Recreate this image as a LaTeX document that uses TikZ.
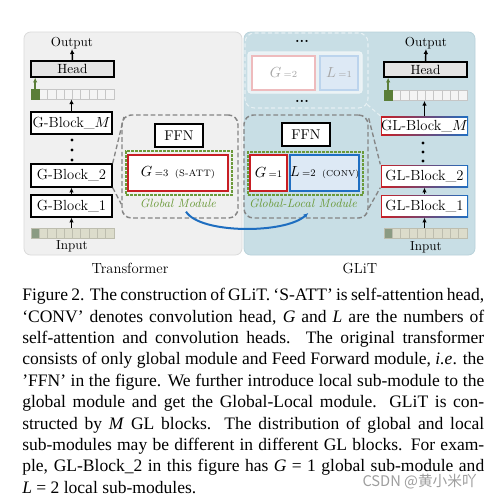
\documentclass[tikz,border=0pt]{standalone}
\usepackage{fontspec}
\usepackage{tikz}
\usetikzlibrary{arrows.meta}
\newfontfamily\capfont{Liberation Serif}
\newfontfamily\cjkfont{Noto Sans CJK SC}
\definecolor{panelgray}{HTML}{F0F0F0}
\definecolor{panelgrayline}{HTML}{DADADA}
\definecolor{panelblue}{HTML}{C8DEE5}
\definecolor{panelblueline}{HTML}{B9D2DA}
\definecolor{headfill}{HTML}{E4E4E4}
\definecolor{tokgreen}{HTML}{5A7E38}
\definecolor{tokline}{HTML}{C6C6C6}
\definecolor{tokfill}{HTML}{F4F4F4}
\definecolor{inpfirst}{HTML}{8B9B83}
\definecolor{inpfill}{HTML}{DCDCCB}
\definecolor{inpline}{HTML}{BDBDAE}
\definecolor{modred}{HTML}{C81E24}
\definecolor{modblue}{HTML}{1F6FC2}
\definecolor{modbluefill}{HTML}{DDE9F5}
\definecolor{modgreen}{HTML}{6B9A3A}
\definecolor{dashgray}{HTML}{858585}
\definecolor{arcblue}{HTML}{1E6EC0}
\def\pxu{0.75pt}
\begin{document}
\begin{tikzpicture}[x=0.75pt,y=-0.75pt,>={Latex[length=3.6pt,width=3.4pt]}]
  \tikzstyle{panel}=[rounded corners=5pt,line width=0.6pt]
  \tikzstyle{txt}=[inner sep=0pt,font=\fontsize{9.8}{11}\selectfont]
  \tikzstyle{blk}=[draw=black,line width=1pt,fill=white,inner sep=0pt,font=\fontsize{11}{13}\selectfont]
  \tikzstyle{glblk}=[blk,draw=none,left color=modred,right color=modblue,
    path picture={\fill[white] ([shift={(1.1pt,-1.1pt)}]path picture bounding box.north west)
      rectangle ([shift={(-1.1pt,1.1pt)}]path picture bounding box.south east);}]
  \tikzstyle{cell}=[draw=tokline,line width=0.5pt,fill=tokfill,minimum width=8.3*\pxu,minimum height=10*\pxu,inner sep=0pt]
  \tikzstyle{icell}=[cell,draw=inpline,fill=inpfill]
  \tikzstyle{modbox}=[draw=dashgray,line width=1.1pt,dash pattern=on 3.5pt off 2pt,rounded corners=7pt,inner sep=0pt]
  \tikzstyle{gmod}=[draw=modgreen,line width=0.8pt,dash pattern=on 2pt off 1pt,fill=none,inner sep=0pt]
  \tikzstyle{gsub}=[draw=modred,line width=1.2pt,fill=white,inner sep=0pt,font=\fontsize{11}{13}\selectfont]
  \tikzstyle{lsub}=[draw=modblue,line width=1.2pt,fill=modbluefill,inner sep=0pt,font=\fontsize{11}{13}\selectfont]
  \tikzstyle{modlabel}=[inner sep=0pt,text=modgreen,font=\fontsize{9}{10}\selectfont\itshape]
  \tikzstyle{link}=[draw=dashgray,line width=1pt,dash pattern=on 3.5pt off 2pt]
  \tikzstyle{flow}=[->,line width=1.1pt]
  \tikzstyle{gflow}=[->,line width=1.1pt,draw=tokgreen,color=tokgreen]

  \fill[white] (0,0) rectangle (493,497);
  \useasboundingbox (0,0) rectangle (493,497);

  % two panels
  \draw[panel,fill=panelgray,draw=panelgrayline] (24,32) rectangle (242,255);
  \draw[panel,fill=panelblue,draw=panelblueline] (244,32) rectangle (475,255);
  \node[txt,font=\fontsize{11}{13}\selectfont] (lab-tr) at (130,268) {Transformer};
  \node[txt,font=\fontsize{11}{13}\selectfont] (lab-gl) at (360,268) {GLiT};

  % ---- transformer column
  \node[txt] (out1) at (72,43) {Output};
  \node[blk,fill=headfill,minimum width=83*\pxu,minimum height=16*\pxu,font=\fontsize{10}{12}\selectfont] (head1) at (72.5,69) {Head};
  \foreach \i in {1,...,10}
    \node[cell] (t1-\i) at ({31+8.3*(\i-0.5)},94) {};
  \node[cell,fill=tokgreen,draw=tokgreen] at (t1-1) {};
  \node[blk,minimum width=81*\pxu,minimum height=22*\pxu] (gbM) at (71.5,123) {G-Block\_$M$};
  \foreach \y in {140,150,160}
    \fill (72,\y) circle (1.7);
  \node[blk,minimum width=81*\pxu,minimum height=23*\pxu] (gb2) at (71.5,175.5) {G-Block\_2};
  \node[blk,minimum width=81*\pxu,minimum height=22*\pxu] (gb1) at (71.5,206) {G-Block\_1};
  \foreach \i in {1,...,10}
    \node[icell] (s1-\i) at ({31+8.3*(\i-0.5)},233) {};
  \node[icell,fill=inpfirst] at (s1-1) {};
  \node[txt] (in1) at (72,246) {Input};

  \draw[flow] (head1.north) -- (out1.south);
  \draw[gflow] (t1-1.north) -- (t1-1.north |- head1.south);
  \draw[flow] (gbM.north) -- (gbM.north |- t1-5.south);
  \draw[flow] (gb1.north) -- (gb2.south);
  \draw[flow] (gb1.south |- s1-5.north) -- (gb1.south);

  % global module
  \node[modbox,minimum width=116*\pxu,minimum height=103*\pxu] (mod1) at (180,166.5) {};
  \node[blk,minimum width=48*\pxu,minimum height=23*\pxu,font=\fontsize{10.6}{12}\selectfont] (ffn1) at (179,135.5) {FFN};
  \node[gmod,minimum width=106*\pxu,minimum height=44*\pxu] (gm1) at (179,173) {};
  \node[gsub,minimum width=100*\pxu,minimum height=36*\pxu] (g3) at (178,173) {$G$\,{\fontsize{7.5}{8}\selectfont =3}\;\,{\fontsize{7}{8}\selectfont (S-ATT)}};
  \node[modlabel] (lab1) at (178,203) {Global Module};
  \draw[link] (gb2.north east) -- ([xshift=2pt,yshift=-2pt]mod1.north west);
  \draw[link] (gb2.south east) -- ([yshift=11pt]mod1.south west);

  % ---- GLiT column
  \node[txt] (out2) at (426,43) {Output};
  \node[blk,fill=headfill,minimum width=83*\pxu,minimum height=15*\pxu,font=\fontsize{10}{12}\selectfont] (head2) at (425.5,69.5) {Head};
  \foreach \i in {1,...,10}
    \node[cell] (t2-\i) at ({384+8.3*(\i-0.5)},95.5) {};
  \node[cell,fill=tokgreen,draw=tokgreen] at (t2-1) {};
  \node[glblk,minimum width=87*\pxu,minimum height=19*\pxu] (glbM) at (424.5,126) {GL-Block\_$M$};
  \foreach \y in {143,152,161}
    \fill (423,\y) circle (1.7);
  \node[glblk,minimum width=87*\pxu,minimum height=22*\pxu] (glb2) at (424.5,176) {GL-Block\_2};
  \node[glblk,minimum width=87*\pxu,minimum height=22*\pxu] (glb1) at (424.5,206) {GL-Block\_1};
  \foreach \i in {1,...,10}
    \node[icell] (s2-\i) at ({384+8.3*(\i-0.5)},233.5) {};
  \node[icell,fill=inpfirst] at (s2-1) {};
  \node[txt] (in2) at (426,247) {Input};

  \draw[flow] (head2.north) -- (out2.south);
  \draw[gflow] (t2-1.north) -- (t2-1.north |- head2.south);
  \draw[flow] (glbM.north) -- (glbM.north |- t2-5.south);
  \draw[flow] (glb1.north) -- (glb2.south);
  \draw[flow] (glb1.south |- s2-5.north) -- (glb1.south);

  % faded other blocks
  \node[draw=white!55!panelblue,line width=0.8pt,dash pattern=on 3pt off 2pt,rounded corners=7pt,minimum width=123*\pxu,minimum height=75*\pxu,inner sep=0pt] (fade) at (306.5,70.5) {};
  \node[txt,font=\fontsize{11}{13}\selectfont\bfseries] (fdot1) at (302,41) {...};
  \node[draw=white!70!panelblue,fill=white!60!panelblue,line width=0.8pt,rounded corners=2pt,minimum width=114*\pxu,minimum height=41*\pxu,inner sep=0pt] (fg) at (305,72.5) {};
  \node[gsub,draw=modred!30!white,fill=white,text=black!35,minimum width=63*\pxu,minimum height=34*\pxu] (g2) at (283.5,73) {$G$\,{\fontsize{7}{8}\selectfont =2}};
  \node[lsub,draw=modblue!30!white,fill=modbluefill,text=black!35,minimum width=38*\pxu,minimum height=34*\pxu] (l1) at (339,73) {$L$\,{\fontsize{7}{8}\selectfont =1}};
  \node[txt,font=\fontsize{11}{13}\selectfont\bfseries] (fdot2) at (302,101) {...};
  \draw[draw=white!55!panelblue,line width=0.8pt,dash pattern=on 3pt off 2pt] ([xshift=-1pt,yshift=3pt]fade.south east) -- (glbM.north west);

  % global-local module
  \node[modbox,minimum width=124*\pxu,minimum height=103*\pxu] (mod2) at (306,166.5) {};
  \node[blk,minimum width=48*\pxu,minimum height=23*\pxu,font=\fontsize{10.6}{12}\selectfont] (ffn2) at (306,134.5) {FFN};
  \node[gmod,minimum width=115*\pxu,minimum height=43*\pxu] (gm2) at (305.5,173.5) {};
  \node[gsub,minimum width=37*\pxu,minimum height=36*\pxu] (g1) at (268.5,173) {$G$\,{\fontsize{7.5}{8}\selectfont =1}};
  \node[lsub,minimum width=69*\pxu,minimum height=36*\pxu] (l2) at (324.5,173) {$L$\,{\fontsize{7.5}{8}\selectfont =2}\;\,{\fontsize{6.5}{7}\selectfont (CONV)}};
  \node[modlabel] (lab2) at (303,203) {Global-Local Module};
  \draw[link] ([yshift=-3pt]mod2.north east) -- (glb2.north west);
  \draw[link] ([yshift=8pt]mod2.south east) -- (glb2.south west);

  % transformer -> GLiT
  \draw[->,draw=arcblue,color=arcblue,line width=1.5pt] ([xshift=6pt,yshift=-3pt]lab1.south)
    .. controls (200,234) and (285,234) .. ([xshift=4pt,yshift=-4pt]lab2.south);

  % caption
  \node[anchor=north west,inner sep=0pt,text width=346.5pt,align=justify,
    font=\capfont\fontsize{13.15}{16.05}\selectfont] (cap) at (22,288) {%
    Figure 2. The construction of GLiT. ‘S-ATT’ is self-attention head,\linebreak
    ‘CONV’ denotes convolution head, \textit{G} and \textit{L} are the numbers of\linebreak
    self-attention and convolution heads. The original transformer\linebreak
    consists of only global module and Feed Forward module, \textit{i.e}. the\linebreak
    ’FFN’ in the figure. We further introduce local sub-module to the\linebreak
    global module and get the Global-Local module. GLiT is con-\linebreak
    structed by \textit{M} GL blocks. The distribution of global and local\linebreak
    sub-modules may be different in different GL blocks. For exam-\linebreak
    ple, GL-Block\_2 in this figure has \textit{G} = 1 global sub-module and\linebreak
    \textit{L} = 2 local sub-modules.};
  \node[anchor=east,inner sep=0pt,text=black!38,font=\cjkfont\fontsize{11}{12}\selectfont] (mark) at (477,482) {CSDN @黄小米吖};
\end{tikzpicture}
\end{document}
